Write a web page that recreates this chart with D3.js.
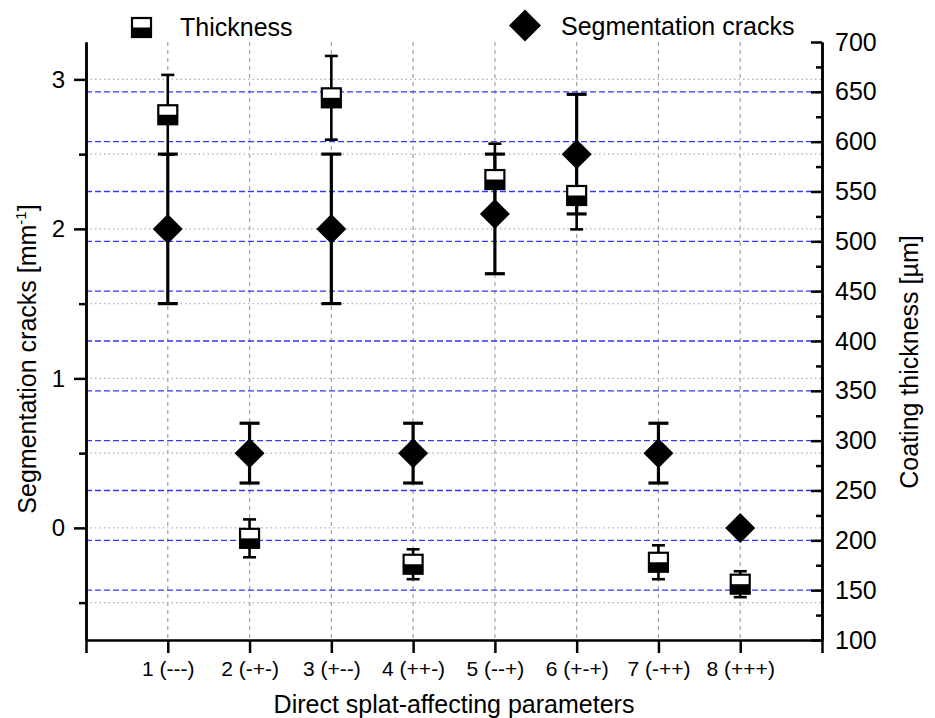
<!DOCTYPE html>
<html>
<head>
<meta charset="utf-8">
<script src="https://cdn.jsdelivr.net/npm/d3@7"></script>
<style>
  body { margin: 0; background: #fff; }
  .axis path, .axis line { stroke: #000; stroke-width: 2.5; }
</style>
</head>
<body>
<svg width="935" height="718" font-family="Liberation Sans, Arial, sans-serif"></svg>
<script>
var categories = ["1 (---)", "2 (-+-)", "3 (+--)", "4 (++-)", "5 (--+)", "6 (+-+)", "7 (-++)", "8 (+++)"];
var thickness = [627, 202, 644, 176, 562, 546, 178, 156];
var thicknessErr = [40, 19, 42, 15, 36, 34, 17, 13];
var cracks = [2.0, 0.5, 2.0, 0.5, 2.1, 2.5, 0.5, 0.0];
var cracksErr = [0.5, 0.2, 0.5, 0.2, 0.4, 0.4, 0.2, 0];
var leftTicks = [0, 1, 2, 3],
    leftMinor = [-0.5, 0.5, 1.5, 2.5],
    rightTicks = [100, 150, 200, 250, 300, 350, 400, 450, 500, 550, 600, 650, 700],
    rightMinor = [125, 175, 225, 275, 325, 375, 425, 475, 525, 575, 625, 675];

var svg = d3.select("svg"),
    margin = {top: 42, right: 113, bottom: 78, left: 86},
    width = +svg.attr("width") - margin.left - margin.right,
    height = +svg.attr("height") - margin.top - margin.bottom;

var x = d3.scaleLinear().domain([0, 9]).range([0, width]),
    yL = d3.scaleLinear().domain([-0.75, 3.25]).range([height, 0]),
    yR = d3.scaleLinear().domain([100, 700]).range([height, 0]);

var data = categories.map(function(c, i) {
  return {i: i + 1, label: c, t: thickness[i], te: thicknessErr[i], c: cracks[i], ce: cracksErr[i]};
});

var g = svg.append("g")
    .attr("transform", "translate(" + margin.left + "," + margin.top + ")");

// grid lines
g.selectAll(".vgrid")
  .data(d3.range(1, 9))
  .enter().append("line")
    .attr("x1", function(d) { return x(d); })
    .attr("x2", function(d) { return x(d); })
    .attr("y1", 0).attr("y2", height)
    .attr("stroke", "#a8a8a8").attr("stroke-width", 1.3)
    .attr("stroke-dasharray", "4,4");

g.selectAll(".hgrid")
  .data(leftTicks.concat(leftMinor))
  .enter().append("line")
    .attr("x1", 0).attr("x2", width)
    .attr("y1", function(d) { return yL(d); })
    .attr("y2", function(d) { return yL(d); })
    .attr("stroke", "#b0b0b0").attr("stroke-width", 1.2)
    .attr("stroke-dasharray", "1.5,3");

g.selectAll(".bgrid")
  .data(rightTicks.filter(function(d) { return d > 100 && d < 700; }))
  .enter().append("line")
    .attr("x1", 0).attr("x2", width)
    .attr("y1", function(d) { return yR(d); })
    .attr("y2", function(d) { return yR(d); })
    .attr("stroke", "#3535ff").attr("stroke-width", 1.3)
    .attr("stroke-dasharray", "6,3");

// axes
function styleAxis(sel, size) {
  sel.attr("font-family", null).attr("font-size", null);
  sel.selectAll("text")
    .style("font-family", "Liberation Sans, Arial, sans-serif")
    .style("font-size", size + "px")
    .attr("fill", "#000");
}

g.append("g")
  .attr("class", "axis")
  .call(d3.axisLeft(yL).tickValues(leftMinor).tickSize(7).tickSizeOuter(0).tickFormat(""));
g.append("g")
  .attr("class", "axis")
  .call(d3.axisLeft(yL).tickValues(leftTicks).tickSize(12).tickSizeOuter(0).tickPadding(9)
    .tickFormat(d3.format("d")))
  .call(styleAxis, 24);

g.append("g")
  .attr("class", "axis")
  .attr("transform", "translate(" + width + ",0)")
  .call(d3.axisRight(yR).tickValues(rightMinor).tickSize(-6).tickSizeOuter(0).tickFormat(""));
g.append("g")
  .attr("class", "axis")
  .attr("transform", "translate(" + width + ",0)")
  .call(d3.axisRight(yR).tickValues(rightTicks).tickSize(-11).tickSizeOuter(0).tickPadding(13)
    .tickFormat(d3.format("d")))
  .call(styleAxis, 25);

g.append("g")
  .attr("class", "axis")
  .attr("transform", "translate(0," + height + ")")
  .call(d3.axisBottom(x).tickValues(d3.range(0, 10)).tickSize(13).tickSizeOuter(0).tickPadding(8)
    .tickFormat(function(d) { return d >= 1 && d <= 8 ? categories[d - 1] : ""; }))
  .call(styleAxis, 21);

// segmentation cracks error bars + diamonds
var cr = g.selectAll(".crack").data(data).enter().append("g");
cr.filter(function(d) { return d.ce > 0; }).each(function(d) {
  var s = d3.select(this), cx = x(d.i);
  s.append("line").attr("x1", cx).attr("x2", cx)
    .attr("y1", yL(d.c + d.ce)).attr("y2", yL(d.c - d.ce))
    .attr("stroke", "#000").attr("stroke-width", 3.2);
  [d.c + d.ce, d.c - d.ce].forEach(function(v) {
    s.append("line").attr("x1", cx - 10).attr("x2", cx + 10)
      .attr("y1", yL(v)).attr("y2", yL(v))
      .attr("stroke", "#000").attr("stroke-width", 3.2);
  });
});
cr.append("path")
  .attr("d", function(d) {
    var cx = x(d.i), cy = yL(d.c);
    return "M" + cx + "," + (cy - 15) + "L" + (cx + 15) + "," + cy + "L" + cx + "," + (cy + 15) + "L" + (cx - 15) + "," + cy + "Z";
  })
  .attr("fill", "#000");

// thickness error bars + half filled squares
var th = g.selectAll(".thick").data(data).enter().append("g");
th.each(function(d) {
  var s = d3.select(this), cx = x(d.i);
  s.append("line").attr("x1", cx).attr("x2", cx)
    .attr("y1", yR(d.t + d.te)).attr("y2", yR(d.t - d.te))
    .attr("stroke", "#000").attr("stroke-width", 2.6);
  [d.t + d.te, d.t - d.te].forEach(function(v) {
    s.append("line").attr("x1", cx - 6.5).attr("x2", cx + 6.5)
      .attr("y1", yR(v)).attr("y2", yR(v))
      .attr("stroke", "#000").attr("stroke-width", 2.6);
  });
  s.append("rect").attr("x", cx - 9.5).attr("y", yR(d.t) - 9.5)
    .attr("width", 19).attr("height", 19)
    .attr("fill", "#fff").attr("stroke", "#000").attr("stroke-width", 2.2);
  s.append("rect").attr("x", cx - 9.5).attr("y", yR(d.t))
    .attr("width", 19).attr("height", 9.5)
    .attr("fill", "#000");
});

// axis titles
var lt = svg.append("text")
  .attr("transform", "translate(36,359)rotate(-90)")
  .attr("text-anchor", "middle")
  .style("font-size", "25px");
lt.append("tspan").text("Segmentation cracks [mm");
lt.append("tspan").attr("dy", -10).style("font-size", "15px").text("-1");
lt.append("tspan").attr("dy", 10).text("]");

svg.append("text")
  .attr("transform", "translate(918,362)rotate(-90)")
  .attr("text-anchor", "middle")
  .style("font-size", "25px")
  .text("Coating thickness [\u00b5m]");

svg.append("text")
  .attr("x", margin.left + width / 2).attr("y", 713)
  .attr("text-anchor", "middle")
  .style("font-size", "25px")
  .text("Direct splat-affecting parameters");

// legend
var lg = svg.append("g");
lg.append("rect").attr("x", 132).attr("y", 18).attr("width", 19).attr("height", 19)
  .attr("fill", "#fff").attr("stroke", "#000").attr("stroke-width", 2.2);
lg.append("rect").attr("x", 132).attr("y", 27.5).attr("width", 19).attr("height", 9.5)
  .attr("fill", "#000");
lg.append("text").attr("x", 180).attr("y", 36).style("font-size", "25px").text("Thickness");
lg.append("path").attr("d", "M525,9.5L541,25.5L525,41.5L509,25.5Z").attr("fill", "#000");
lg.append("text").attr("x", 561).attr("y", 35).style("font-size", "25px").text("Segmentation cracks");
</script>
</body>
</html>
